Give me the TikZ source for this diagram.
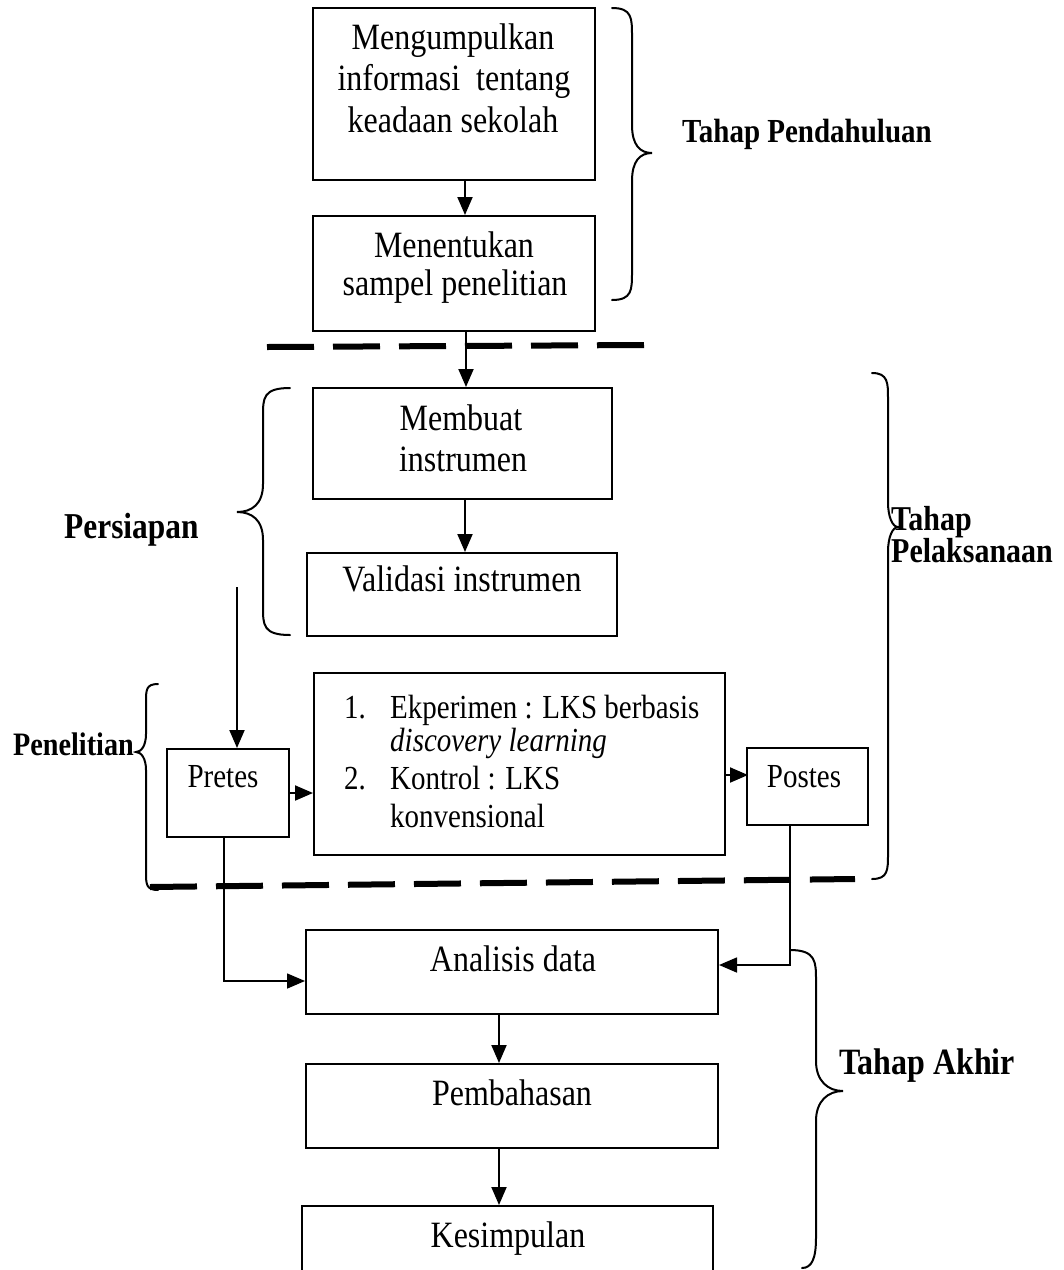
\documentclass[tikz,border=0pt]{standalone}
\usepackage{fontspec}
\setmainfont{Liberation Serif}
\usetikzlibrary{arrows.meta,calc}
\newcommand\tstretch[1]{\scalebox{1}[1.16]{#1}}
\tikzset{
  box/.style={draw, line width=2pt, inner sep=0pt},
  txt/.style={inner sep=0pt, anchor=base, font=\fontsize{32}{38}\selectfont},
  txts/.style={inner sep=0pt, anchor=base west, font=\fontsize{29}{34}\selectfont},
  lbl/.style={inner sep=0pt, anchor=base west},
  arr/.style={line width=2pt, -{Triangle[length=18pt,width=15pt]}},
  thinarr/.style={line width=1.6pt, -{Triangle[length=18pt,width=15pt]}},
  dashline/.style={line width=6pt, dash pattern=on 47pt off 19pt},
  brace/.style={line width=2pt, line cap=round}
}
\begin{document}
\begin{tikzpicture}[x=1pt,y=-1pt]
\useasboundingbox (0,0) rectangle (1064,1270);
\clip (0,0) rectangle (1064,1270);
\fill[white] (0,0) rectangle (1064,1270);

% boxes
\node[box, minimum width=282pt, minimum height=172pt] (b1) at (454,94) {};
\node[box, minimum width=282pt, minimum height=115pt] (b2) at (454,273.5) {};
\node[box, minimum width=299pt, minimum height=111pt] (b3) at (462.5,443.5) {};
\node[box, minimum width=310pt, minimum height=83pt] (b4) at (462,594.5) {};
\node[box, minimum width=122pt, minimum height=88pt] (pre) at (228,793) {};
\node[box, minimum width=411pt, minimum height=182pt] (mid) at (519.5,764) {};
\node[box, minimum width=121pt, minimum height=77pt] (post) at (807.5,786.5) {};
\node[box, minimum width=412pt, minimum height=84pt] (ana) at (512,972) {};
\node[box, minimum width=412pt, minimum height=84pt] (pem) at (512,1106) {};
\node[box, minimum width=411pt, minimum height=100pt] (kes) at (507.5,1256) {};

% texts
\node[txt] (t1a) at (453,49) {\tstretch{Mengumpulkan}};
\node[txt] (t1b) at (454,90.5) {\tstretch{informasi\ \ tentang}};
\node[txt] (t1c) at (453,132) {\tstretch{keadaan sekolah}};
\node[txt] (t2a) at (454,257) {\tstretch{Menentukan}};
\node[txt] (t2b) at (455,295) {\tstretch{sampel penelitian}};
\node[txt] (t3a) at (461,430) {\tstretch{Membuat}};
\node[txt] (t3b) at (463,471) {\tstretch{instrumen}};
\node[txt] (t4) at (462,591) {\tstretch{Validasi instrumen}};
\node[txt, font=\fontsize{29}{34}\selectfont] (tpre) at (223,787) {\tstretch{Pretes}};
\node[txt, font=\fontsize{29}{34}\selectfont] (tpost) at (804,787) {\tstretch{Postes}};
\node[txts] (m1n) at (344,718) {\tstretch{1.}};
\node[txts] (m1) at (390,718) {\tstretch{Ekperimen : LKS berbasis}};
\node[txts] (m2) at (390,751) {\tstretch{\itshape discovery learning}};
\node[txts] (m3n) at (344,789) {\tstretch{2.}};
\node[txts] (m3) at (390,789) {\tstretch{Kontrol : LKS}};
\node[txts] (m4) at (390,827) {\tstretch{konvensional}};
\node[txt] (tana) at (513,971) {\tstretch{Analisis data}};
\node[txt] (tpem) at (512,1105) {\tstretch{Pembahasan}};
\node[txt] (tkes) at (508,1247) {\tstretch{Kesimpulan}};

% labels
\node[lbl, font=\fontsize{29}{34}\selectfont\bfseries] (lpend) at (682,142) {\tstretch{Tahap Pendahuluan}};
\node[lbl, font=\fontsize{31.4}{36}\selectfont\bfseries] (lpers) at (64,538) {\tstretch{Persiapan}};
\node[lbl, font=\fontsize{28.2}{34}\selectfont\bfseries] (lpen) at (13,755) {\tstretch{Penelitian}};
\node[lbl, font=\fontsize{30}{34}\selectfont\bfseries] (lpel1) at (891,530) {\tstretch{Tahap}};
\node[lbl, font=\fontsize{30}{34}\selectfont\bfseries] (lpel2) at (891,562) {\tstretch{Pelaksanaan}};
\node[lbl, font=\fontsize{32}{38}\selectfont\bfseries] (lakh) at (839,1074) {\tstretch{Tahap Akhir}};

% dashed separators
\draw[dashline] (267,347) -- (644,345);
\draw[dashline] (150,887) -- (855,879);

% arrows
\draw[arr] ($(b1.south)+(11,0)$) -- ($(b2.north)+(11,0)$);
\draw[arr] ($(b2.south)+(12,0)$) -- ($(b3.north)+(3.5,0)$);
\draw[arr] ($(b3.south)+(2.5,0)$) -- ($(b4.north)+(3,0)$);
\coordinate (p0) at (237,587);
\draw[arr] (p0) -- (p0 |- pre.north);
\draw[arr] (pre.east) -- (pre.east -| mid.west);
\draw[arr] ($(mid.east)+(0,11)$) -- ($(mid.east)+(22,11)$);
\draw[thinarr] ($(pre.south)+(-4,0)$) |- ($(ana.west)+(0,9)$);
\draw[thinarr] ($(post.south)+(-17.5,0)$) |- ($(ana.east)+(0,-7)$);
\draw[arr] ($(ana.south)+(-13,0)$) -- ($(pem.north)+(-13,0)$);
\draw[arr] ($(pem.south)+(-13,0)$) -- ($(kes.north)+(-8.5,0)$);

% braces
\draw[brace] (612,8) .. controls (632,8) and (632,18) .. (632,36) -- (632,125)
  .. controls (632,145) and (640,153) .. (652,153)
  .. controls (640,153) and (632,161) .. (632,181) -- (632,272)
  .. controls (632,290) and (632,300) .. (612,300);
\draw[brace] (290,388) .. controls (263,388) and (263,398) .. (263,416) -- (263,484)
  .. controls (263,504) and (252,512) .. (237,512)
  .. controls (252,512) and (263,520) .. (263,540) -- (263,607)
  .. controls (263,625) and (263,635) .. (290,635);
\draw[brace] (158,684) .. controls (146,684) and (146,690) .. (146,702) -- (146,734)
  .. controls (146,746) and (141,752) .. (136,752)
  .. controls (141,752) and (146,758) .. (146,770) -- (146,872)
  .. controls (146,884) and (146,890) .. (158,890);
\draw[brace] (872,373) .. controls (888,373) and (888,383) .. (888,398) -- (888,502)
  .. controls (888,518) and (893,527) .. (898,527)
  .. controls (893,527) and (888,536) .. (888,552) -- (888,854)
  .. controls (888,870) and (888,879) .. (872,879);
\draw[brace] (790,950) .. controls (816,950) and (816,962) .. (816,980) -- (816,1061)
  .. controls (816,1081) and (828,1091) .. (843,1091)
  .. controls (828,1091) and (816,1101) .. (816,1121) -- (816,1238)
  .. controls (816,1258) and (812,1268) .. (802,1268);
\end{tikzpicture}
\end{document}
